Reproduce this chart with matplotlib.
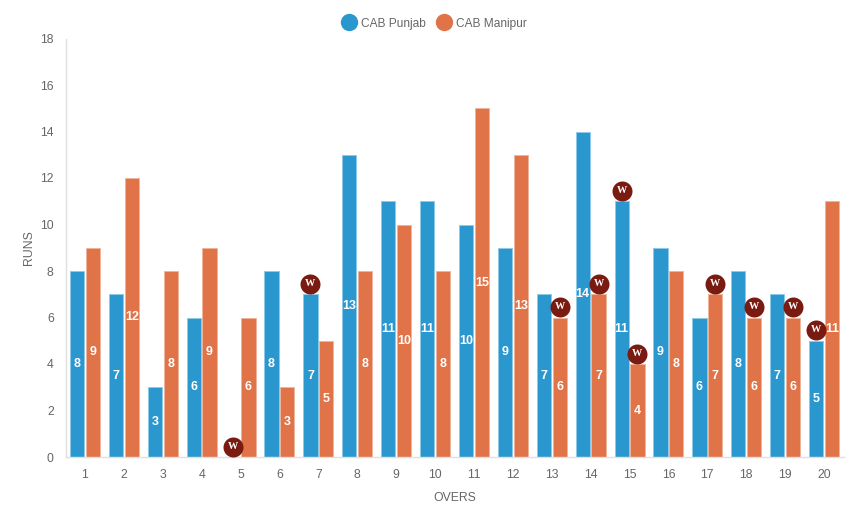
import matplotlib
matplotlib.use("Agg")
import matplotlib.pyplot as plt
from matplotlib.lines import Line2D
from matplotlib.transforms import ScaledTranslation
import numpy as np

overs = list(range(1, 21))
punjab = [8, 7, 3, 6, 0, 8, 7, 13, 11, 11, 10, 9, 7, 14, 11, 9, 6, 8, 7, 5]
manipur = [9, 12, 8, 9, 6, 3, 5, 8, 10, 8, 15, 13, 6, 7, 4, 8, 7, 6, 6, 11]
punjab_wickets = [5, 7, 15, 20]
manipur_wickets = [13, 14, 15, 17, 18, 19]

BLUE, BLUE_E = "#2B97CF", "#8CCAE8"
ORANGE, ORANGE_E = "#E07348", "#F0B49C"
WICKET = "#7A1B12"
GREY = "#666666"
plt.rcParams["font.family"] = ["Liberation Sans", "DejaVu Sans"]
plt.rcParams["text.kerning_factor"] = 6

W, H = 861, 516
fig = plt.figure(figsize=(W / 100, H / 100), dpi=100)
L, R, T, B = 65.5, 843.5, 38.5, 457
ax = fig.add_axes([L / W, 1 - B / H, (R - L) / W, (B - T) / H])
ax.set_xlim(0.5, 20.5)
ax.set_ylim(0, 18)

x = np.array(overs)
w = 14.2 / 38.9
off = 7.9 / 38.9
ax.bar(x - off, punjab, w, color=BLUE, edgecolor=BLUE_E, linewidth=0.7, zorder=2)
ax.bar(x + off, manipur, w, color=ORANGE, edgecolor=ORANGE_E, linewidth=0.7, zorder=2)

for xs, vals in ((x - off, punjab), (x + off, manipur)):
    for xi, v in zip(xs, vals):
        if v > 0:
            ax.text(xi, v / 2, str(v), color="white", fontsize=9, fontweight="bold",
                    ha="center", va="center", zorder=3)

lift = ScaledTranslation(0, 10.5 / 100, fig.dpi_scale_trans)

def wicket(over, vals, sign):
    xi = over + sign * off
    v = vals[over - 1]
    ax.plot([xi], [v], marker="o", ms=14.4, mfc=WICKET, mec=WICKET, mew=0, zorder=5,
            clip_on=False, linestyle="none", transform=ax.transData + lift)
    ax.annotate("W", (xi, v), xytext=(0, 7.8), textcoords="offset points", color="white",
                fontsize=7.4, fontweight="bold", family="Liberation Serif",
                ha="center", va="center", zorder=6)

for o in punjab_wickets:
    wicket(o, punjab, -1)
for o in manipur_wickets:
    wicket(o, manipur, 1)

ax.set_xticks(overs)
ax.set_xticklabels([str(o) for o in overs])
ax.set_yticks(range(0, 19, 2))
ax.tick_params(axis="both", length=0, labelsize=8.8, labelcolor=GREY)
ax.tick_params(axis="x", pad=9)
ax.tick_params(axis="y", pad=8.5)
for s in ("top", "right"):
    ax.spines[s].set_visible(False)
for s in ("left", "bottom"):
    ax.spines[s].set_color("#E0E0E0")
    ax.spines[s].set_linewidth(1)
ax.set_xlabel("OVERS", fontsize=8.8, color=GREY, labelpad=7.5)
ax.set_ylabel("RUNS", fontsize=8.8, color=GREY, labelpad=4)

handles = [Line2D([], [], marker="o", ls="none", ms=12.5, mfc=BLUE, mec="none", label="CAB Punjab"),
           Line2D([], [], marker="o", ls="none", ms=12.5, mfc=ORANGE, mec="none", label="CAB Manipur")]
fig.legend(handles=handles, loc="center", bbox_to_anchor=(432 / W, 1 - 23.5 / H), ncol=2, frameon=False,
           fontsize=8.6, labelcolor=GREY, handletextpad=0.0, columnspacing=0.55, borderpad=0)
fig.savefig("out.png", dpi=100)
